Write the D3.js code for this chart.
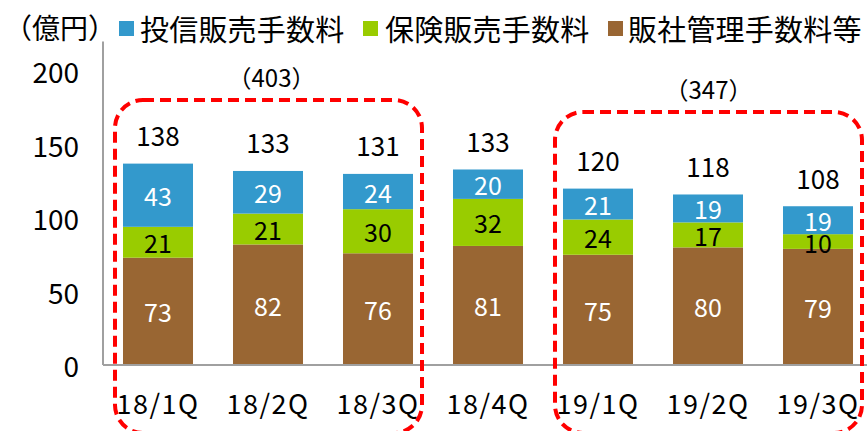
<!DOCTYPE html>
<html><head><meta charset="utf-8">
<script src="https://cdn.jsdelivr.net/npm/d3@7"></script>
<style>
html,body{margin:0;padding:0;background:#fff;}
text{font-family:"Noto Sans CJK JP","Noto Sans",sans-serif;}
</style></head>
<body>
<svg id="chart" width="867" height="431"></svg>
<script>
const categories = ["18/1Q","18/2Q","18/3Q","18/4Q","19/1Q","19/2Q","19/3Q"];
const seriesNames = ["販社管理手数料等","保険販売手数料","投信販売手数料"];
const kanriValues = [73,82,76,81,75,80,79];
const hokenValues = [21,21,30,32,24,17,10];
const toshinValues = [43,29,24,20,21,19,19];
const totals = [138,133,131,133,120,118,108];
const yTicks = [0,50,100,150,200];
const unitLabel = "（億円）";
const groupTotals = [{from:0,to:2,label:"（403）"},{from:4,to:6,label:"（347）"}];

const colors = {"投信販売手数料":"#3399cc","保険販売手数料":"#99cc00","販社管理手数料等":"#996633"};
const labelColors = {"投信販売手数料":"#fff","保険販売手数料":"#000","販社管理手数料等":"#fff"};

const svg = d3.select("#chart");
const x = d3.scaleBand().domain(categories).range([103,873]).paddingInner(0.3636).paddingOuter(0.1818);
const y = d3.scaleLinear().domain([0,220]).range([365,41.6]);

const rows = categories.map((c,i)=>({cat:c,"販社管理手数料等":kanriValues[i],"保険販売手数料":hokenValues[i],"投信販売手数料":toshinValues[i],total:totals[i]}));
const stack = d3.stack().keys(seriesNames)(rows);

// bars
const g = svg.append("g");
stack.forEach(layer=>{
  const key = layer.key;
  g.selectAll(null).data(layer).join("rect")
    .attr("x",d=>x(d.data.cat)).attr("width",x.bandwidth())
    .attr("y",d=>y(d[1])).attr("height",d=>y(d[0])-y(d[1]))
    .attr("fill",colors[key]);
  g.selectAll(null).data(layer).join("text")
    .attr("x",d=>x(d.data.cat)+x.bandwidth()/2)
    .attr("y",d=>(y(d[0])+y(d[1]))/2)
    .attr("text-anchor","middle").attr("dominant-baseline","central")
    .attr("font-size",25).attr("fill",labelColors[key])
    .text(d=>d.data[key]);
});

// totals
g.selectAll(null).data(rows).join("text")
  .attr("x",d=>x(d.cat)+x.bandwidth()/2)
  .attr("y",(d,i)=>y(stack[2][i][1])-29)
  .attr("text-anchor","middle").attr("dominant-baseline","central")
  .attr("font-size",26).attr("fill","#000")
  .text(d=>d.total);

// axes
svg.append("line").attr("x1",x.range()[0]).attr("x2",867).attr("y1",y(0)).attr("y2",y(0))
  .attr("stroke","#a0a0a0").attr("stroke-width",2);
svg.append("line").attr("x1",x.range()[0]).attr("x2",x.range()[0]).attr("y1",y(0)).attr("y2",y(220))
  .attr("stroke","#a0a0a0").attr("stroke-width",2);
svg.selectAll(null).data(yTicks).join("text")
  .attr("x",79).attr("y",d=>y(d)).attr("text-anchor","end").attr("dominant-baseline","central")
  .attr("font-size",28).attr("fill","#000").text(d=>d);
svg.selectAll(null).data(categories).join("text")
  .attr("x",d=>x(d)+x.bandwidth()/2).attr("y",402)
  .attr("text-anchor","middle").attr("dominant-baseline","central")
  .attr("font-size",27).attr("letter-spacing","1.5px").attr("fill","#000").text(d=>d);

// legend
svg.append("text").attr("x",4).attr("y",27).attr("dominant-baseline","central")
  .attr("font-size",28).text(unitLabel);
const legendItems = [
  {name:"投信販売手数料",sx:119,tx:140},
  {name:"保険販売手数料",sx:363,tx:385},
  {name:"販社管理手数料等",sx:608,tx:628}
];
legendItems.forEach(it=>{
  svg.append("rect").attr("x",it.sx).attr("y",21).attr("width",15).attr("height",15).attr("fill",colors[it.name]);
  svg.append("text").attr("x",it.tx).attr("y",28).attr("dominant-baseline","central")
    .attr("font-size",29).attr("letter-spacing","0.2px").text(it.name);
});

// group highlight boxes
const boxTops = [100,112];
groupTotals.forEach((gt,k)=>{
  const x0 = x(categories[gt.from]) - 8;
  const x1 = x(categories[gt.to]) + x.bandwidth() + 9;
  const top = boxTops[k];
  svg.append("rect").attr("x",x0).attr("y",top).attr("width",x1-x0).attr("height",333-top+100)
    .attr("rx",28).attr("ry",28).attr("fill","none")
    .attr("stroke","#ff0000").attr("stroke-width",4).attr("stroke-dasharray","11,6");
  svg.append("text").attr("x",(x0+x1)/2 - (k===0?-3:0)).attr("y",top-24)
    .attr("text-anchor","middle").attr("dominant-baseline","central")
    .attr("font-size",24).text(gt.label);
});
</script>
</body></html>
